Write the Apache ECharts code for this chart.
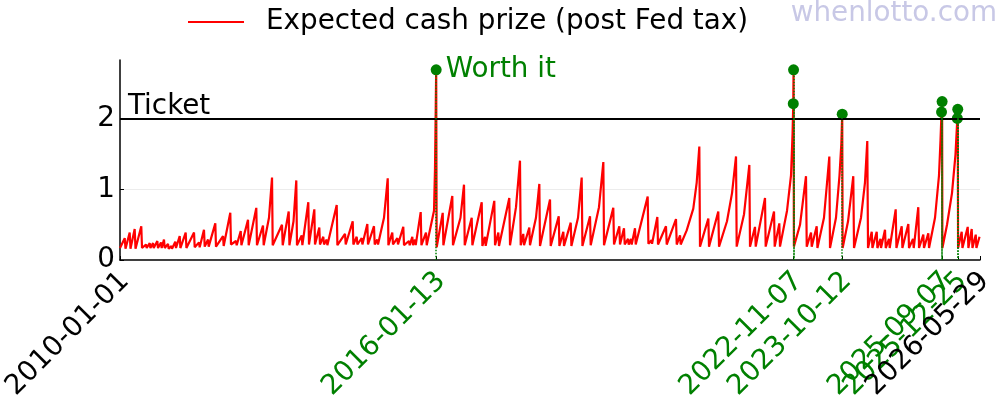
<!DOCTYPE html>
<html>
<head>
  <meta charset="UTF-8">
  <title>Expected cash prize</title>
  <style>
    body { margin: 0; background: #fff; }
    #chart { width: 1000px; height: 400px; }
  </style>
  <script src="https://cdn.jsdelivr.net/npm/echarts@6/dist/echarts.min.js"></script>
</head>
<body>
<div id="chart"></div>
<script>
  // draw times as decimal years, values in dollars per ticket
  var drawYear = [
    2010.000, 2010.090, 2010.105, 2010.185, 2010.200, 2010.280, 2010.296, 2010.406, 2010.420, 2010.496,
    2010.509, 2010.567, 2010.580, 2010.630, 2010.643, 2010.712, 2010.725, 2010.782, 2010.795, 2010.839,
    2010.853, 2010.916, 2010.929, 2010.982, 2010.992, 2011.055, 2011.068, 2011.139, 2011.152, 2011.253,
    2011.267, 2011.412, 2011.425, 2011.507, 2011.520, 2011.602, 2011.616, 2011.679, 2011.692, 2011.818,
    2011.831, 2011.965, 2011.978, 2012.104, 2012.117, 2012.213, 2012.226, 2012.303, 2012.316, 2012.442,
    2012.455, 2012.600, 2012.613, 2012.728, 2012.741, 2012.842, 2012.900, 2012.913, 2013.090, 2013.104,
    2013.218, 2013.232, 2013.310, 2013.363, 2013.376, 2013.466, 2013.479, 2013.592, 2013.605, 2013.707,
    2013.720, 2013.802, 2013.815, 2013.878, 2013.892, 2013.943, 2013.956, 2014.134, 2014.147, 2014.292,
    2014.306, 2014.439, 2014.452, 2014.515, 2014.529, 2014.611, 2014.624, 2014.718, 2014.731, 2014.845,
    2014.859, 2014.908, 2014.922, 2015.036, 2015.107, 2015.120, 2015.194, 2015.208, 2015.290, 2015.303,
    2015.404, 2015.418, 2015.513, 2015.526, 2015.576, 2015.589, 2015.627, 2015.641, 2015.736, 2015.750,
    2015.837, 2015.851, 2015.990, 2016.009, 2016.041, 2016.156, 2016.169, 2016.339, 2016.352, 2016.495,
    2016.562, 2016.576, 2016.709, 2016.722, 2016.900, 2016.913, 2016.963, 2016.976, 2017.140, 2017.154,
    2017.217, 2017.230, 2017.426, 2017.440, 2017.554, 2017.630, 2017.644, 2017.693, 2017.707, 2017.808,
    2017.821, 2017.935, 2017.999, 2018.012, 2018.203, 2018.216, 2018.369, 2018.382, 2018.457, 2018.470,
    2018.598, 2018.611, 2018.737, 2018.807, 2018.821, 2018.966, 2018.979, 2019.137, 2019.220, 2019.233,
    2019.410, 2019.424, 2019.525, 2019.538, 2019.614, 2019.628, 2019.691, 2019.704, 2019.748, 2019.761,
    2019.824, 2019.838, 2020.066, 2020.080, 2020.139, 2020.149, 2020.250, 2020.263, 2020.415, 2020.429,
    2020.606, 2020.620, 2020.683, 2020.696, 2020.810, 2020.936, 2021.001, 2021.051, 2021.064, 2021.223,
    2021.236, 2021.413, 2021.427, 2021.579, 2021.675, 2021.751, 2021.764, 2021.904, 2022.005, 2022.018,
    2022.113, 2022.127, 2022.304, 2022.317, 2022.476, 2022.489, 2022.577, 2022.590, 2022.724, 2022.800,
    2022.830, 2022.855, 2022.972, 2023.086, 2023.100, 2023.182, 2023.195, 2023.290, 2023.304, 2023.429,
    2023.531, 2023.544, 2023.658, 2023.725, 2023.760, 2023.785, 2023.888, 2023.988, 2024.002, 2024.135,
    2024.211, 2024.255, 2024.269, 2024.340, 2024.353, 2024.435, 2024.448, 2024.507, 2024.517, 2024.593,
    2024.607, 2024.669, 2024.683, 2024.797, 2024.811, 2024.912, 2024.925, 2025.038, 2025.051, 2025.127,
    2025.141, 2025.228, 2025.242, 2025.324, 2025.337, 2025.419, 2025.433, 2025.547, 2025.623, 2025.652,
    2025.688, 2025.776, 2025.871, 2025.938, 2025.987, 2026.056, 2026.070, 2026.171, 2026.184, 2026.247,
    2026.261, 2026.324, 2026.337, 2026.396
  ];
  var prize = [
    0.17, 0.31, 0.16, 0.39, 0.16, 0.44, 0.16, 0.48, 0.17, 0.22,
    0.17, 0.24, 0.17, 0.24, 0.17, 0.27, 0.17, 0.25, 0.17, 0.29,
    0.17, 0.23, 0.16, 0.20, 0.16, 0.26, 0.17, 0.34, 0.17, 0.39,
    0.17, 0.39, 0.18, 0.25, 0.18, 0.43, 0.19, 0.29, 0.19, 0.52,
    0.19, 0.34, 0.20, 0.67, 0.22, 0.27, 0.21, 0.41, 0.21, 0.57,
    0.21, 0.74, 0.21, 0.49, 0.21, 0.60, 1.17, 0.21, 0.50, 0.21,
    0.69, 0.21, 0.55, 1.13, 0.21, 0.35, 0.21, 0.82, 0.22, 0.72,
    0.22, 0.46, 0.22, 0.33, 0.22, 0.29, 0.21, 0.78, 0.21, 0.37,
    0.22, 0.55, 0.22, 0.33, 0.22, 0.31, 0.22, 0.51, 0.22, 0.48,
    0.22, 0.29, 0.22, 0.60, 1.16, 0.21, 0.39, 0.22, 0.31, 0.22,
    0.47, 0.21, 0.27, 0.21, 0.33, 0.21, 0.29, 0.21, 0.68, 0.21,
    0.39, 0.21, 0.70, 1.30, 0.18, 0.67, 0.21, 0.91, 0.21, 0.60,
    1.07, 0.21, 0.60, 0.21, 0.82, 0.20, 0.33, 0.20, 0.84, 0.21,
    0.39, 0.20, 0.88, 0.21, 0.75, 1.41, 0.21, 0.37, 0.21, 0.46,
    0.21, 0.60, 1.08, 0.20, 0.86, 0.20, 0.62, 0.20, 0.40, 0.20,
    0.53, 0.20, 0.60, 1.17, 0.20, 0.62, 0.21, 0.75, 1.39, 0.21,
    0.74, 0.22, 0.48, 0.22, 0.45, 0.22, 0.30, 0.22, 0.30, 0.22,
    0.45, 0.22, 0.90, 0.23, 0.28, 0.23, 0.61, 0.22, 0.48, 0.22,
    0.58, 0.22, 0.35, 0.22, 0.42, 0.73, 1.10, 1.61, 0.19, 0.59,
    0.19, 0.69, 0.19, 0.55, 0.95, 1.47, 0.19, 0.65, 1.35, 0.19,
    0.47, 0.19, 0.88, 0.19, 0.69, 0.19, 0.52, 0.19, 0.70, 1.20,
    1.80, 0.19, 0.50, 1.19, 0.19, 0.39, 0.19, 0.48, 0.17, 0.60,
    1.47, 0.17, 0.60, 1.20, 1.65, 0.17, 0.55, 1.19, 0.17, 0.60,
    1.10, 1.69, 0.17, 0.40, 0.17, 0.40, 0.17, 0.30, 0.17, 0.43,
    0.17, 0.30, 0.17, 0.72, 0.17, 0.48, 0.17, 0.51, 0.17, 0.30,
    0.17, 0.75, 0.17, 0.36, 0.17, 0.38, 0.17, 0.60, 1.20, 1.70,
    0.17, 0.50, 0.95, 1.50, 0.17, 0.40, 0.17, 0.47, 0.17, 0.44,
    0.17, 0.36, 0.17, 0.33
  ];

  // draws where the expected prize beat the ticket price
  var worthDates = ['2016-01-13', '2022-11-05', '2022-11-07', '2023-10-12', '2025-09-03', '2025-09-07', '2025-12-22', '2025-12-25'];
  var worthPrize = [2.70, 2.22, 2.70, 2.07, 2.10, 2.25, 2.01, 2.14];

  // x tick labels, split in groups so overlapping ones are all kept
  var tickDatesA = ['2010-01-01', '2016-01-13', '2022-11-07', '2023-10-12', '2025-09-07'];
  var tickDatesB = ['2025-12-25'];
  var tickDatesC = ['2026-05-29'];
  var greenTicks = ['2016-01-13', '2022-11-07', '2023-10-12', '2025-09-07', '2025-12-25'];
  var ticketPrice = 2;

  var FONT = 'DejaVu Sans';
  var FS = 27.8;

  function yearToTime(y) {
    return Date.UTC(2010, 0, 1) + (y - 2010) * 365.25 * 864e5;
  }
  function dayToTime(s) {
    return Date.parse(s + 'T00:00:00Z');
  }
  function fmtDay(t) {
    return new Date(t).toISOString().slice(0, 10);
  }

  var xMin = dayToTime('2010-01-01');
  var xMax = dayToTime('2026-05-29');

  var lineData = drawYear.map(function (y, i) { return [yearToTime(y), prize[i]]; })
    .concat(worthDates.map(function (d, i) { return [dayToTime(d), worthPrize[i]]; }))
    .sort(function (a, b) { return a[0] - b[0]; });

  var worthData = worthDates.map(function (d, i) {
    var item = { value: [dayToTime(d), worthPrize[i]] };
    if (i === 0) {
      item.label = {
        show: true, position: 'right', distance: 4, formatter: 'Worth it',
        color: 'green', fontSize: FS, fontFamily: FONT
      };
    }
    return item;
  });

  var dropLines = worthDates.map(function (d, i) {
    return [{ coord: [dayToTime(d), worthPrize[i]] }, { coord: [dayToTime(d), 0] }];
  });

  function dateAxis(ticks, main) {
    return {
      type: 'value',
      position: 'bottom',
      offset: 0,
      min: xMin,
      max: xMax,
      axisLine: { show: main, lineStyle: { color: '#000', width: 1.5 } },
      axisTick: {
        show: true, inside: true, length: 4, customValues: ticks.map(dayToTime),
        lineStyle: { color: '#000' }
      },
      splitLine: { show: false },
      axisLabel: {
        customValues: ticks.map(dayToTime),
        rotate: 45,
        margin: 12,
        padding: [14, 0, 0, 0],
        showMinLabel: true,
        showMaxLabel: true,
        hideOverlap: false,
        fontSize: FS,
        fontFamily: FONT,
        formatter: function (v) {
          var s = fmtDay(v);
          return greenTicks.indexOf(s) >= 0 ? '{g|' + s + '}' : '{k|' + s + '}';
        },
        rich: {
          g: { color: 'green', fontSize: FS, fontFamily: FONT },
          k: { color: '#000', fontSize: FS, fontFamily: FONT }
        }
      }
    };
  }

  var myChart = echarts.init(document.getElementById('chart'));
  var option = {
    animation: false,
    textStyle: { fontFamily: FONT },
    legend: {
      left: 183,
      top: 3,
      icon: 'rect',
      itemWidth: 56,
      itemHeight: 2,
      data: ['Expected cash prize (post Fed tax)'],
      textStyle: { fontSize: FS, color: '#000', fontFamily: FONT, padding: [0, 0, 0, 17] }
    },
    graphic: [{
      type: 'text',
      right: 3,
      top: 0,
      style: { text: 'whenlotto.com', fontSize: FS, fontFamily: FONT, fill: '#c8c8e6' }
    }],
    grid: { left: 120, right: 20, top: 60, bottom: 140, outerBoundsMode: 'none', containLabel: false },
    xAxis: [dateAxis(tickDatesA, true), dateAxis(tickDatesB, false), dateAxis(tickDatesC, false)],
    yAxis: {
      type: 'value',
      min: 0,
      max: 2.84,
      interval: 1,
      axisLine: { show: true, lineStyle: { color: '#000', width: 1.5 } },
      axisTick: { show: true, inside: true, length: 4, lineStyle: { color: '#000' } },
      splitLine: { show: true, showMaxLine: false, showMinLine: false, lineStyle: { color: '#ececec', width: 1 } },
      axisLabel: { fontSize: FS, fontFamily: FONT, color: '#000', margin: 5, showMaxLabel: false }
    },
    series: [{
      name: 'Expected cash prize (post Fed tax)',
      type: 'line',
      xAxisIndex: 0,
      data: lineData,
      showSymbol: false,
      color: 'red',
      lineStyle: { color: 'red', width: 2.2 },
      z: 2,
      markLine: {
        silent: true,
        symbol: 'none',
        lineStyle: { color: '#000', width: 2, type: 'solid' },
        label: {
          show: true, formatter: 'Ticket', position: 'insideStartTop',
          distance: [8, -2], color: '#000', fontSize: FS, fontFamily: FONT
        },
        data: [{ yAxis: ticketPrice }]
      }
    }, {
      name: 'Worth it',
      type: 'scatter',
      xAxisIndex: 0,
      data: worthData,
      symbolSize: 11,
      itemStyle: { color: 'green', opacity: 1 },
      z: 4,
      markLine: {
        silent: true,
        symbol: 'none',
        label: { show: false },
        lineStyle: { color: 'green', width: 1.5, type: 'dotted' },
        data: dropLines
      }
    }]
  };
  myChart.setOption(option);
</script>
</body>
</html>
